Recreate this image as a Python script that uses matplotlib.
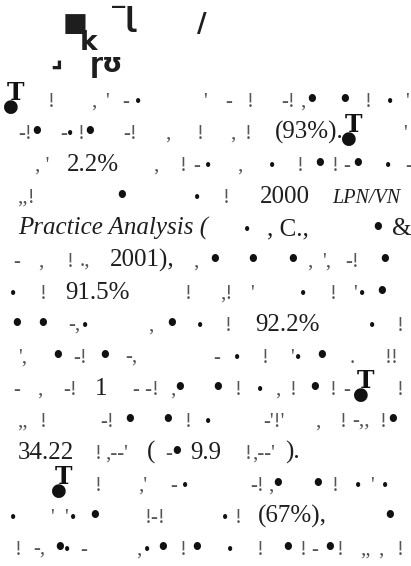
import matplotlib
matplotlib.use("Agg")
import matplotlib.pyplot as plt

W, H = 411, 566
SERIF = ["Liberation Serif", "DejaVu Serif"]

# baselines of the 15 body lines (px from top)
first_line = 107
line_gap = 32

# heading glyphs: (x, y, text)
title_glyphs = [
    (63, 31, "■"),
    (80, 50, "k"),
    (112, 26, "‾ɭ"),
    (197, 32, "/"),
    (50, 66, "⌟"),
    (90, 72, "ɼʊ"),
]

# readable words: (line, x, text)
words = [
    (1, 275, "(93%)."),
    (2, 67, "2.2%"),
    (3, 260, "2000"),
    (4, 267, ", C.,"),
    (4, 392, "&"),
    (5, 110, "2001),"),
    (6, 65, "91.5%"),
    (7, 255, "92.2%"),
    (9, 95, "1"),
    (11, 18, "34.22"),
    (11, 147, "("),
    (11, 190, "9.9"),
    (11, 285, ")."),
    (13, 258, "(67%),"),
]
italic_words = [(4, 18, "Practice Analysis (")]
small_caps = [(3, 332, "LPN/VN")]

# broken glyph strokes: (line, x, text)
strokes = [
    (0, 48, "!"), (0, 90, "‚"), (0, 105, "'"), (0, 122, "-"), (0, 203, "'"),
    (0, 225, "-"), (0, 247, "!"), (0, 281, "-!"), (0, 300, ","), (0, 365, "!"),
    (0, 405, "'"),
    (1, 18, "-!"), (1, 60, "-"), (1, 78, "!"), (1, 123, "-!"), (1, 165, ","),
    (1, 197, "!"), (1, 230, ","), (1, 245, "!"), (1, 403, "'"),
    (2, 35, ", '"), (2, 153, ","), (2, 180, "!"), (2, 193, "-"), (2, 237, ","),
    (2, 297, "!"), (2, 332, "!"), (2, 343, "-"), (2, 405, "-"),
    (3, 17, ",,!"), (3, 223, "!"),
    (5, 13, "-"), (5, 38, ","), (5, 67, "!"), (5, 80, ".,"), (5, 193, ","),
    (5, 307, ","), (5, 322, "',"), (5, 345, "-!"),
    (6, 40, "!"), (6, 185, "!"), (6, 220, ",!"), (6, 250, "'"), (6, 330, "!"),
    (6, 353, "'"),
    (7, 68, "-,"), (7, 148, ","), (7, 225, "!"), (7, 397, "!"),
    (8, 18, "',"), (8, 73, "-!"), (8, 125, "-,"), (8, 213, "-"), (8, 262, "!"),
    (8, 290, "'"), (8, 350, "."), (8, 385, "!!"),
    (9, 13, "-"), (9, 37, ","), (9, 63, "-!"), (9, 133, "- -!"), (9, 170, ","),
    (9, 235, "!"), (9, 275, ","), (9, 290, "!"), (9, 330, "!"), (9, 343, "-"),
    (9, 397, "!"),
    (10, 17, ",,"), (10, 40, "!"), (10, 100, "-!"), (10, 185, "!"),
    (10, 263, "-'!'"), (10, 315, ","), (10, 340, "!"), (10, 352, "-,,"),
    (10, 380, "!"),
    (11, 95, "!"), (11, 105, ",--'"), (11, 165, "-"), (11, 245, "!"),
    (11, 252, ",--'"),
    (12, 95, "!"), (12, 138, ",'"), (12, 170, "-"), (12, 250, "-!"),
    (12, 268, ","), (12, 332, "!"), (12, 370, "'"),
    (13, 50, "'"), (13, 64, "'"), (13, 145, "!-!"), (13, 235, "!"),
    (14, 15, "!"), (14, 33, "-,"), (14, 80, "-"), (14, 136, ","), (14, 180, "!"),
    (14, 257, "!"), (14, 300, "!"), (14, 311, "-"), (14, 337, "!"),
    (14, 360, ",,"), (14, 378, ","), (14, 397, "!"),
]

# ink blots: (line, x, size) size 1 = large, 0 = small
dots = [
    (0, 138, 0), (0, 312, 1), (0, 345, 1), (0, 390, 0),
    (1, 37, 1), (1, 70, 0), (1, 90, 1),
    (2, 208, 0), (2, 272, 0), (2, 320, 1), (2, 358, 1), (2, 388, 0),
    (3, 122, 1), (3, 197, 0),
    (4, 247, 0), (4, 378, 1),
    (5, 215, 1), (5, 253, 1), (5, 293, 1), (5, 385, 1),
    (6, 13, 0), (6, 303, 0), (6, 362, 0), (6, 382, 1),
    (7, 17, 1), (7, 43, 1), (7, 85, 0), (7, 172, 1), (7, 200, 0), (7, 372, 0),
    (8, 58, 1), (8, 105, 1), (8, 237, 0), (8, 298, 0), (8, 322, 1),
    (9, 180, 1), (9, 218, 1), (9, 260, 0), (9, 315, 1),
    (10, 130, 1), (10, 168, 1), (10, 208, 0), (10, 393, 1),
    (11, 177, 1),
    (12, 185, 0), (12, 278, 1), (12, 318, 1), (12, 358, 0), (12, 385, 0),
    (13, 13, 0), (13, 73, 0), (13, 95, 1), (13, 225, 0), (13, 390, 1),
    (14, 60, 1), (14, 67, 0), (14, 147, 0), (14, 163, 1), (14, 197, 1),
    (14, 230, 0), (14, 288, 1), (14, 330, 1),
]

# large paragraph marks: (line, x)
para_marks = [(0, 7), (1, 345), (9, 357), (12, 55)]


def base(line):
    return first_line + line * line_gap


fig = plt.figure(figsize=(W / 100, H / 100), dpi=100)
ax = fig.add_axes([0, 0, 1, 1])
ax.set_xlim(0, W)
ax.set_ylim(H, 0)
ax.axis("off")

ink = "#1e1e1e"

for x, y, s in title_glyphs:
    ax.text(x, y, s, fontsize=19, fontweight="bold", color=ink,
            family=["DejaVu Sans"], va="baseline", ha="left")

for ln, x, s in words:
    ax.text(x, base(ln), s, fontsize=18, color=ink, family=SERIF,
            va="baseline", ha="left")
for ln, x, s in italic_words:
    ax.text(x, base(ln), s, fontsize=18, style="italic", color=ink,
            family=SERIF, va="baseline", ha="left")
for ln, x, s in small_caps:
    ax.text(x, base(ln), s, fontsize=14.5, style="italic", color=ink,
            family=SERIF, va="baseline", ha="left")

for ln, x, s in strokes:
    ax.text(x, base(ln), s, fontsize=15, color="#555555", family=SERIF,
            va="baseline", ha="left")

for ln, x, size in dots:
    fs = 22 if size else 13
    ax.text(x, base(ln) + (2 if size else 0), "•", fontsize=fs, color="#111111",
            family=SERIF, va="baseline", ha="center")

for ln, x in para_marks:
    ax.text(x, base(ln) - 7, "T", fontsize=17, fontweight="bold", color="#111111",
            family=["DejaVu Serif"], va="baseline", ha="left")
    ax.text(x + 4, base(ln) + 5, "●", fontsize=13, color="#111111",
            family=["DejaVu Sans"], va="baseline", ha="center")

fig.savefig("out.png", dpi=100, facecolor="white")
